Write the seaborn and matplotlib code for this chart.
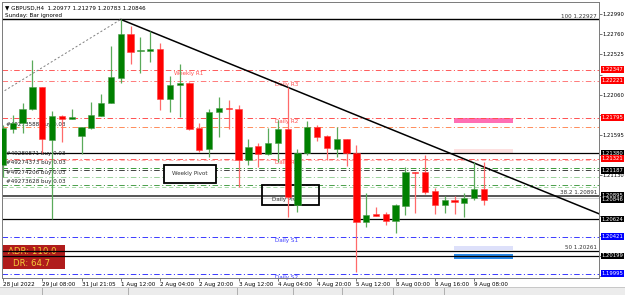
import numpy as np
import pandas as pd
import matplotlib
matplotlib.use("Agg")
import matplotlib.pyplot as plt
import matplotlib.transforms as mtrans
from matplotlib.patches import Rectangle
import seaborn as sns

# ---------------- data ----------------
opens = [1.21248, 1.21660, 1.21729, 1.21891, 1.22145, 1.21537, 1.21814, 1.21782, 1.21583, 1.21675,
         1.21814, 1.21967, 1.22255, 1.22759, 1.22560, 1.22567, 1.22583, 1.22013, 1.22168, 1.22198,
         1.21672, 1.21429, 1.21860, 1.21909, 1.21894, 1.21306, 1.21468, 1.21375, 1.21499, 1.21667,
         1.20787, 1.21390, 1.21683, 1.21583, 1.21429, 1.21548, 1.21390, 1.20594, 1.20683, 1.20683,
         1.20606, 1.20779, 1.21168, 1.21168, 1.20952, 1.20787, 1.20845, 1.20814, 1.20864, 1.20977]
highs = [1.21710, 1.21822, 1.21967, 1.22459, 1.22150, 1.21875, 1.21820, 1.21891, 1.21683, 1.21975,
         1.22067, 1.22621, 1.22927, 1.22852, 1.22728, 1.22790, 1.22652, 1.22275, 1.22413, 1.22205,
         1.21729, 1.21891, 1.22029, 1.21998, 1.21940, 1.21545, 1.21499, 1.21672, 1.21767, 1.22152,
         1.21429, 1.21756, 1.21710, 1.21590, 1.21683, 1.21552, 1.21479, 1.20929, 1.20760, 1.20710,
         1.20799, 1.21229, 1.21172, 1.21364, 1.20987, 1.20891, 1.20891, 1.20922, 1.21286, 1.21279]
lows = [1.21110, 1.21621, 1.21614, 1.21883, 1.21383, 1.20624, 1.21517, 1.21776, 1.21375, 1.21667,
        1.21810, 1.21960, 1.22191, 1.22413, 1.22306, 1.22440, 1.21883, 1.21863, 1.21799, 1.21655,
        1.21402, 1.21344, 1.21575, 1.21660, 1.20998, 1.21248, 1.21222, 1.21364, 1.21286, 1.20652,
        1.20710, 1.21364, 1.21529, 1.21306, 1.21344, 1.21237, 1.20018, 1.20530, 1.20655, 1.20556,
        1.20461, 1.20672, 1.20698, 1.20914, 1.20683, 1.20698, 1.20683, 1.20645, 1.20845, 1.20783]
closes = [1.21675, 1.21736, 1.21894, 1.22145, 1.21545, 1.21817, 1.21776, 1.21806, 1.21683, 1.21822,
          1.21967, 1.22260, 1.22759, 1.22555, 1.22575, 1.22583, 1.22013, 1.22171, 1.22198, 1.21664,
          1.21421, 1.21860, 1.21902, 1.21891, 1.21306, 1.21459, 1.21375, 1.21499, 1.21667, 1.20883,
          1.21390, 1.21683, 1.21575, 1.21441, 1.21548, 1.21390, 1.20594, 1.20672, 1.20660, 1.20606,
          1.20784, 1.21168, 1.21153, 1.20940, 1.20787, 1.20845, 1.20822, 1.20864, 1.20968, 1.20846]

time_ticks = [0, 4, 8, 12, 16, 20, 24, 28, 32, 36, 40, 44, 48]
time_labels = ["28 Jul 2022", "29 Jul 08:00", "31 Jul 21:05", "1 Aug 12:00", "2 Aug 04:00",
               "2 Aug 20:00", "3 Aug 12:00", "4 Aug 04:00", "4 Aug 20:00", "5 Aug 12:00",
               "8 Aug 00:00", "8 Aug 16:00", "9 Aug 08:00"]
price_ticks = [1.22990, 1.22760, 1.22525, 1.22290, 1.22060, 1.21830, 1.21595, 1.21365,
               1.21130, 1.20895, 1.20665, 1.20430, 1.20200, 1.19965]
hidden_ticks = [1.21365, 1.20895, 1.20430, 1.20200, 1.21830, 1.22290, 1.20665, 1.19965]

fib_prices = [1.22927, 1.20891, 1.20261]
fib_labels = ["100 1.22927", "38.2 1.20891", "50 1.20261"]
pivot_names = ["Weekly R1", "Daily R3", "Daily R2", "Daily R1", "Daily S1", "Daily S2"]
pivot_prices = [1.22347, 1.22221, 1.21795, 1.21321, 1.20421, 1.19995]
weekly_pivot = 1.21187
hline_prices = [1.21383, 1.20624, 1.20199]
order_names = ["#49280871 buy 0.03", "#49274373 buy 0.03", "#49274206 buy 0.03", "#49273628 buy 0.03"]
order_prices = [1.21383, 1.21210, 1.21107, 1.21018]
extra_levels = [1.21683, 1.21310, 1.20990, 1.20870]
zone_lo = [1.21733, 1.21375, 1.20268, 1.20168]
zone_hi = [1.21795, 1.21429, 1.20314, 1.20222]
zone_x = [45.9, 52.0]
trend_x = [12, 60.8]
trend_y = [1.22927, 1.20682]
dotted_x = [-0.2, 12]
dotted_y = [1.22080, 1.22927]
red_box_prices = [1.22347, 1.22221, 1.21795, 1.21380, 1.21321]
black_box_prices = [1.21187, 1.20895, 1.20846, 1.20624, 1.20199]
blue_box_prices = [1.20421, 1.19995]
header = "\u25bc GBPUSD,H4  1.20977 1.21279 1.20783 1.20846"

# ---------------- style ----------------
sns.set_theme(style="white")
plt.rcParams['font.family'] = ['DejaVu Sans']
plt.rcParams['lines.scale_dashes'] = False

W, H = 625, 295
fig = plt.figure(figsize=(W / 100, H / 100), dpi=100)
fig.patch.set_facecolor("white")
ax = fig.add_axes([2 / W, 1 - 278 / H, 597 / W, 276 / H])
ax.set_facecolor("white")
pix = mtrans.Affine2D().scale(1 / W, -1 / H).translate(0, 1) + fig.transFigure

DD = (0, (4, 1.8, 0.8, 1.8))
FS = 4.1
FSY = 3.75

df = pd.DataFrame({"i": np.arange(len(opens)), "o": opens, "h": highs, "l": lows, "c": closes})
up = df.c >= df.o

# level lines
ax.axhline(fib_prices[0], color="black", lw=1.0, zorder=1.5)
ax.axhline(fib_prices[1], color="#555555", lw=1.4, zorder=1.5)
ax.axhline(extra_levels[3], color="#d0d0d0", lw=0.8, zorder=1.4)
ax.axhline(fib_prices[2], color="black", lw=0.9, zorder=1.5)
for p in hline_prices:
    ax.axhline(p, color="black", lw=0.9, zorder=1.5)
res_cols = ["#ff5a5a", "#ff7a7a", "#ff5050", "#ff5a5a"]
for p, c in zip(pivot_prices[:4], res_cols):
    ax.axhline(p, color=c, lw=0.7, ls=DD, zorder=1.3)
for p in pivot_prices[4:]:
    ax.axhline(p, color="#3a3aff", lw=0.7, ls=DD, zorder=1.3)
ax.axhline(extra_levels[0], color="#ff8c5a", lw=0.7, ls=DD, zorder=1.3)
ax.axhline(extra_levels[1], color="#ffb4b4", lw=0.7, ls=(0, (3, 2)), zorder=1.3)
ax.axhline(weekly_pivot, color="#404040", lw=0.7, ls=DD, zorder=1.3)
ax.axhline(order_prices[1], color="#3a9a3a", lw=0.7, ls=DD, zorder=1.3)
ax.axhline(order_prices[2], color="#9ad09a", lw=0.7, ls=DD, zorder=1.3)
ax.axhline(order_prices[3], color="#4aa04a", lw=0.7, ls=DD, zorder=1.3)
ax.axhline(extra_levels[2], color="#a8d8a8", lw=0.7, ls=(0, (3, 2)), zorder=1.3)

# zones
zcols = ["#ff6eb4", "#fde0e0", "#dde0fa", "#2a8ae8"]
for lo, hi, c in zip(zone_lo, zone_hi, zcols):
    ax.add_patch(Rectangle((zone_x[0], lo), zone_x[1] - zone_x[0], hi - lo, fc=c, ec="none", zorder=1.2))

# trend lines
sns.lineplot(x=trend_x, y=trend_y, ax=ax, color="black", lw=1.1, zorder=2.5, legend=False)
sns.lineplot(x=dotted_x, y=dotted_y, ax=ax, color="#808080", lw=0.7, ls=(0, (1.5, 1.5)), zorder=2.5, legend=False)

# text labels for levels (below candles)
px = lambda x: (x - 3) / 9.816
for name, p in zip(pivot_names, pivot_prices):
    col = "#3a3aff" if "S" in name.split()[-1] else "#ff5050"
    xx = px(174) if name.startswith("Weekly") else px(275)
    ax.text(xx, p - 0.00012, name, color=col, fontsize=FS, ha="left", va="top", zorder=1.8)
for name, p, dy in zip(order_names, order_prices, [0.0, 0.00062, 0.00050, 0.00040]):
    ax.text(px(6), p + dy, name, color="#222222", fontsize=FS, ha="left", va="center", zorder=1.8)
ax.text(px(6), 1.21721, "#49273588 buy 0.03", color="#222222", fontsize=FS, ha="left", va="center", zorder=1.8)
trans_r = mtrans.blended_transform_factory(ax.transAxes, ax.transData)
for lab, p in zip(fib_labels, fib_prices):
    ax.text(0.997, p + 0.00008, lab, transform=trans_r, color="#333333", fontsize=FS,
            ha="right", va="bottom", zorder=2)

# candles
wick_cols = np.where(up, "#5aaa5a", "#ff6a6a")
body_cols = np.where(up, "#008000", "#ff0000")
edge_cols = np.where(up, "#4c9c4c", "#ff4040")
body_lo = np.minimum(df.o, df.c)
body_h = np.maximum((df.c - df.o).abs(), 0.00007)
ax.vlines(df.i, df.l, df.h, colors=wick_cols, lw=0.9, zorder=3)
ax.bar(df.i, body_h, bottom=body_lo, width=0.64, color=body_cols, edgecolor=edge_cols,
       linewidth=0.4, zorder=4)

# boxes
ax.add_patch(Rectangle((164.3, 165.3), 51.4, 17.4, transform=pix, fc="white", ec="black", lw=1.3,
                       zorder=2.6, clip_on=False))
ax.text(190, 174, "Weekly Pivot", transform=pix, fontsize=FS, color="#333333", ha="center",
        va="center", zorder=2.7)
ax.add_patch(Rectangle((262.3, 185.3), 56.7, 19.7, transform=pix, fc="none", ec="black", lw=1.3,
                       zorder=2.6, clip_on=False))
ax.text(287, 199.5, "Daily Pivot", transform=pix, fontsize=FS, color="#333333", ha="center",
        va="center", zorder=2.7)

# ADR box
ax.add_patch(Rectangle((3.3, 245), 61.7, 24.3, transform=pix, fc="#b01c1c", ec="none", zorder=1.0,
                       clip_on=False))
ax.text(32, 252, "ADR: 110.0", transform=pix, fontsize=6.2, color="#f5cf3a", ha="center", va="center",
        zorder=1.1)
ax.text(32, 263.5, "DR: 64.7", transform=pix, fontsize=6.2, color="#f5cf3a", ha="center", va="center",
        zorder=1.1)

# header
ax.text(5, 7.5, header, transform=pix, fontsize=FS, color="black", ha="left", va="center", zorder=5)
ax.text(5, 15.5, "Sunday: Bar ignored", transform=pix, fontsize=FS, color="black", ha="left",
        va="center", zorder=5)

# axes
ax.set_xlim(-0.102, 60.72)
ax.set_ylim(1.19945, 1.23128)
ax.yaxis.tick_right()
ax.set_yticks(price_ticks)
ax.set_yticklabels(["" if v in hidden_ticks else f"{v:.5f}" for v in price_ticks])
ax.set_xticks(time_ticks)
ax.set_xticklabels(time_labels)
for lbl in ax.get_xticklabels():
    lbl.set_horizontalalignment("left")
ax.tick_params(axis="x", labelsize=FS, length=2, width=0.5, color="#444444", labelcolor="black",
               pad=1.2, bottom=True)
ax.tick_params(axis="y", labelsize=FSY, length=2, width=0.5, color="#444444", labelcolor="black",
               pad=0.6, right=True, left=False)
for s in ax.spines.values():
    s.set_color("#7a7a7a")
    s.set_linewidth(0.7)
ax.set_xlabel("")
ax.set_ylabel("")

# price boxes on axis
BX = 1.0045
def price_box(p, fc, z=10):
    ax.text(BX, p, f"{p:.5f}", transform=trans_r, color="white", fontsize=FSY, ha="left",
            va="center", bbox=dict(boxstyle="square,pad=0.15", fc=fc, ec="none"),
            clip_on=False, zorder=z)

for p in red_box_prices[:3]:
    price_box(p, "#ff0000")
price_box(red_box_prices[3], "black")
price_box(red_box_prices[4], "#ff0000", 11)
for p in black_box_prices:
    price_box(p, "black")
for p in blue_box_prices:
    price_box(p, "#0000ff")

# bottom tab bar
fig.add_artist(Rectangle((0, 287), 625, 8, transform=pix, fc="#ececec", ec="none"))
fig.add_artist(Rectangle((0, 287), 625, 0.8, transform=pix, fc="#c8c8c8", ec="none"))
for xx in [42, 128, 237, 293, 342, 393, 444]:
    fig.add_artist(Rectangle((xx, 288), 0.8, 7, transform=pix, fc="#b0b0b0", ec="none"))

fig.savefig("out.png", dpi=100)
